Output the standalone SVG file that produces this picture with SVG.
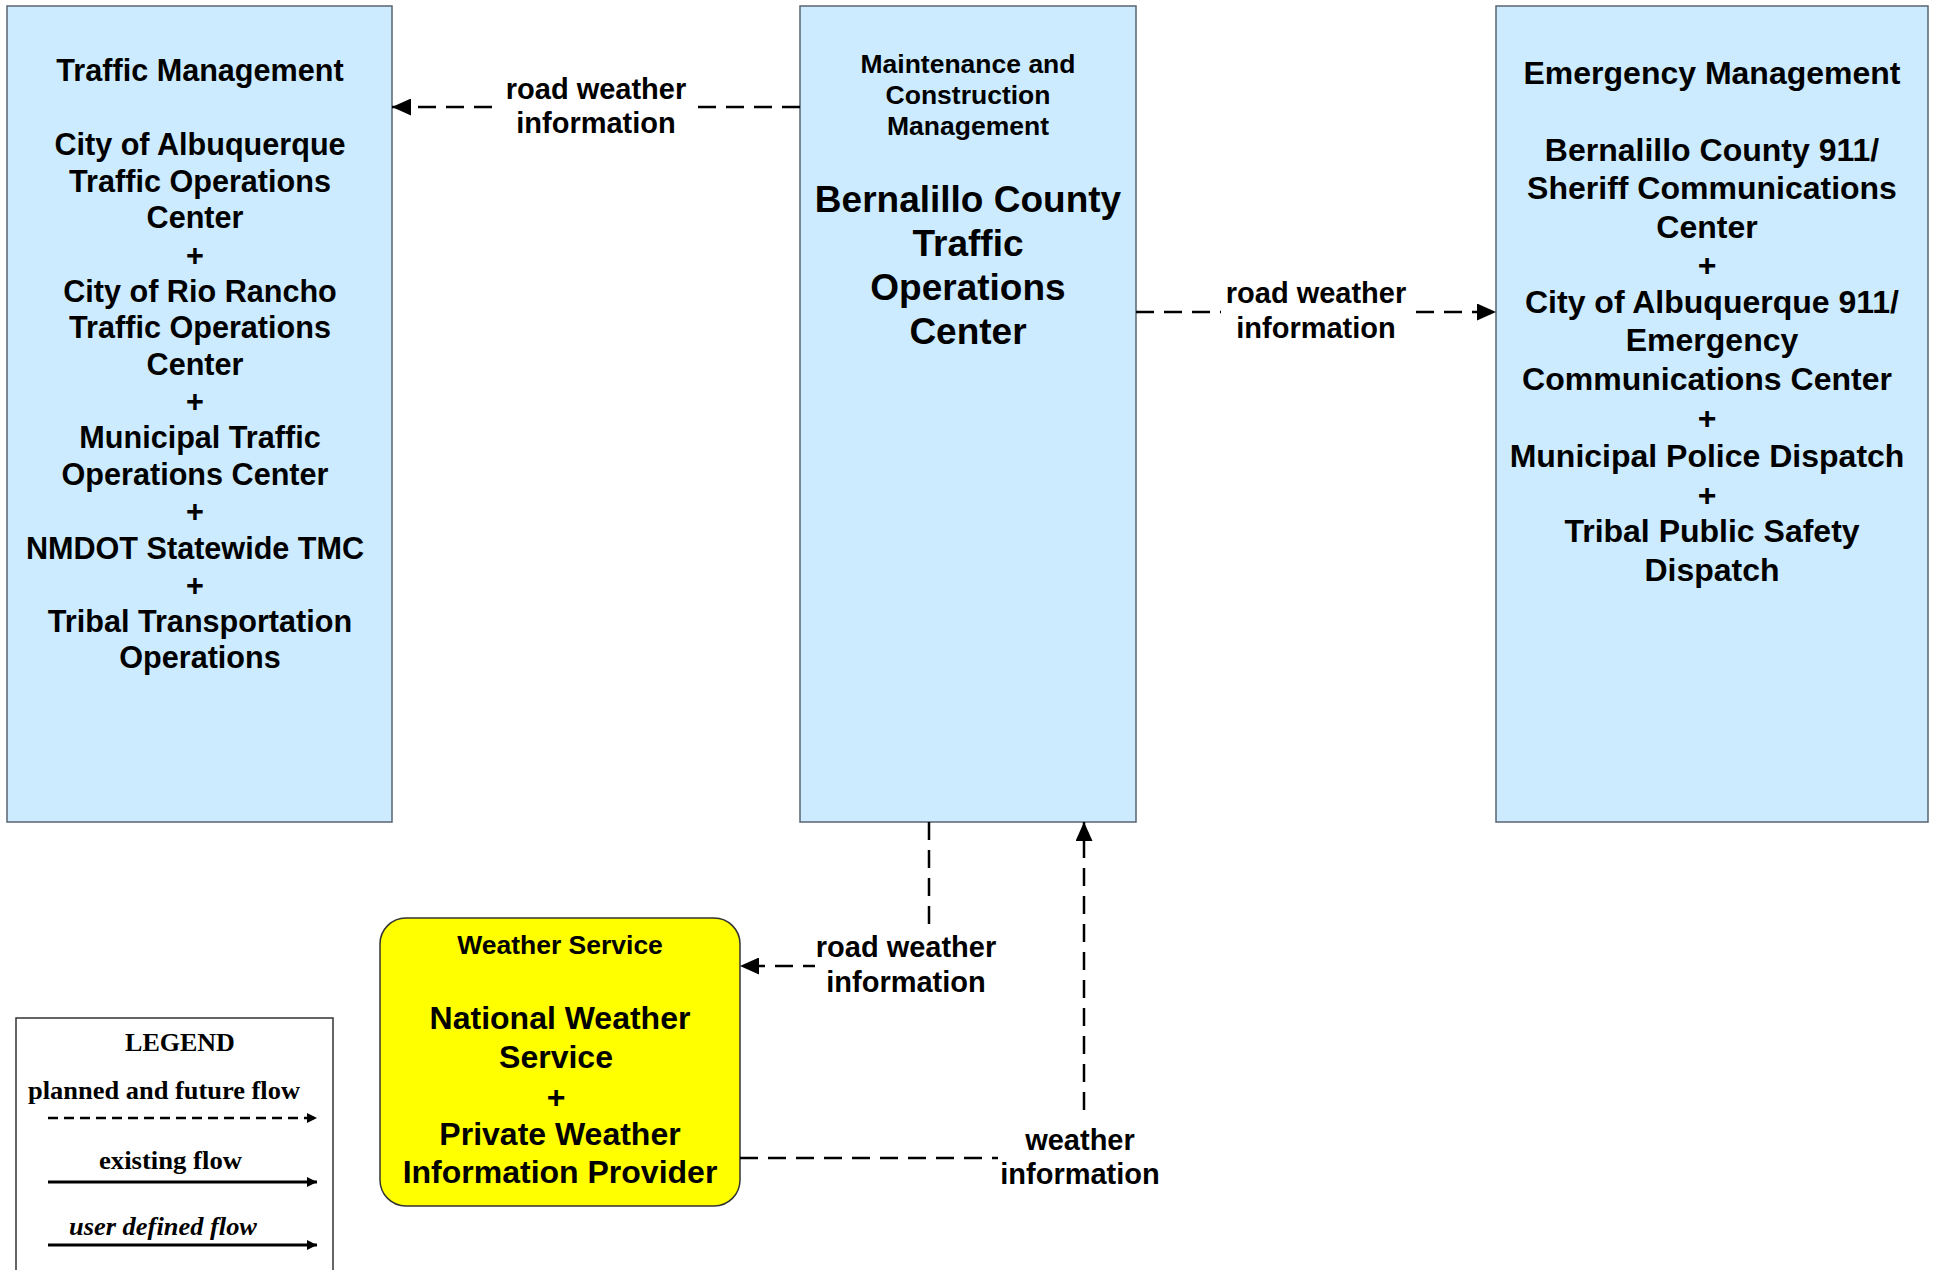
<svg xmlns="http://www.w3.org/2000/svg" width="1935" height="1270" viewBox="0 0 1935 1270">
<style>
  .box { fill: #CCEBFF; stroke: #5A6472; stroke-width: 1.5; }
  .ws { fill: #FFFF00; stroke: #333333; stroke-width: 1.5; }
  .t { font-family: "Liberation Sans", Arial, sans-serif; font-weight: bold; fill: #000; text-anchor: middle; }
  .h { font-size: 26.5px; }
  .m { font-size: 30.6px; }
  .r { font-size: 32px; }
  .big { font-size: 37px; }
  .lbl { font-family: "Liberation Sans", Arial, sans-serif; font-weight: bold; font-size: 29px; fill: #000; text-anchor: middle; }
  .flow { fill: none; stroke: #000; stroke-width: 2.5; stroke-dasharray: 18 10; }
  .lg { font-family: "Liberation Serif", "Times New Roman", serif; font-weight: bold; font-size: 26px; fill: #000; }
  .bg { fill: #FFFFFF; }
</style>
<defs>
  <marker id="arr" viewBox="0 0 19 17" refX="19" refY="8.5" markerWidth="19" markerHeight="17" markerUnits="userSpaceOnUse" orient="auto">
    <path d="M0,0 L19,8.5 L0,17 z" fill="#000"/>
  </marker>
  <marker id="sarr" viewBox="0 0 10 10" refX="10" refY="5" markerWidth="10" markerHeight="10" markerUnits="userSpaceOnUse" orient="auto">
    <path d="M0,0 L10,5 L0,10 z" fill="#000"/>
  </marker>
</defs>
<rect width="1935" height="1270" fill="#FFFFFF"/>

<g id="node-traffic-management">
  <rect class="box" x="7" y="6" width="385" height="816"/>
  <text class="t m" x="200" y="81">Traffic Management</text>
  <text class="t m" x="200" y="155">City of Albuquerque</text>
  <text class="t m" x="200" y="192">Traffic Operations</text>
  <text class="t m" x="195" y="228">Center</text>
  <text class="t m" x="195" y="266">+</text>
  <text class="t m" x="200" y="302">City of Rio Rancho</text>
  <text class="t m" x="200" y="338">Traffic Operations</text>
  <text class="t m" x="195" y="375">Center</text>
  <text class="t m" x="195" y="412">+</text>
  <text class="t m" x="200" y="448">Municipal Traffic</text>
  <text class="t m" x="195" y="485">Operations Center</text>
  <text class="t m" x="195" y="522">+</text>
  <text class="t m" x="195" y="559">NMDOT Statewide TMC</text>
  <text class="t m" x="195" y="596">+</text>
  <text class="t m" x="200" y="632">Tribal Transportation</text>
  <text class="t m" x="200" y="668">Operations</text>
</g>

<g id="node-bernalillo-tmc">
  <rect class="box" x="800" y="6" width="336" height="816"/>
  <text class="t h" x="968" y="73">Maintenance and</text>
  <text class="t h" x="968" y="104">Construction</text>
  <text class="t h" x="968" y="135">Management</text>
  <text class="t big" x="968" y="212">Bernalillo County</text>
  <text class="t big" x="968" y="256">Traffic</text>
  <text class="t big" x="968" y="300">Operations</text>
  <text class="t big" x="968" y="344">Center</text>
</g>

<g id="node-emergency-management">
  <rect class="box" x="1496" y="6" width="432" height="816"/>
  <text class="t r" x="1712" y="84">Emergency Management</text>
  <text class="t r" x="1712" y="161">Bernalillo County 911/</text>
  <text class="t r" x="1712" y="199">Sheriff Communications</text>
  <text class="t r" x="1707" y="238">Center</text>
  <text class="t r" x="1707" y="276">+</text>
  <text class="t r" x="1712" y="313">City of Albuquerque 911/</text>
  <text class="t r" x="1712" y="351">Emergency</text>
  <text class="t r" x="1707" y="390">Communications Center</text>
  <text class="t r" x="1707" y="429">+</text>
  <text class="t r" x="1707" y="467">Municipal Police Dispatch</text>
  <text class="t r" x="1707" y="506">+</text>
  <text class="t r" x="1712" y="542">Tribal Public Safety</text>
  <text class="t r" x="1712" y="581">Dispatch</text>
</g>

<g id="node-weather-service">
  <rect class="ws" x="380" y="918" width="360" height="288" rx="26" ry="26"/>
  <text class="t h" x="560" y="954">Weather Service</text>
  <text class="t r" x="560" y="1029">National Weather</text>
  <text class="t r" x="556" y="1068">Service</text>
  <text class="t r" x="556" y="1108">+</text>
  <text class="t r" x="560" y="1145">Private Weather</text>
  <text class="t r" x="560" y="1183">Information Provider</text>
</g>

<g id="connectors">
  <path class="flow" d="M800,107 H392" marker-end="url(#arr)"/>
  <rect class="bg" x="502" y="78" width="187" height="62"/>
  <text class="lbl" x="596" y="99">road weather</text>
  <text class="lbl" x="596" y="133">information</text>

  <path class="flow" d="M1136,312 H1496" marker-end="url(#arr)"/>
  <rect class="bg" x="1221" y="280" width="190" height="64"/>
  <text class="lbl" x="1316" y="303">road weather</text>
  <text class="lbl" x="1316" y="338">information</text>

  <path class="flow" d="M929,822 V966 H740" marker-end="url(#arr)"/>
  <rect class="bg" x="815" y="930" width="183" height="70"/>
  <text class="lbl" x="906" y="957">road weather</text>
  <text class="lbl" x="906" y="992">information</text>

  <path class="flow" d="M740,1158 H1084 V822" marker-end="url(#arr)"/>
  <rect class="bg" x="998" y="1120" width="164" height="74"/>
  <text class="lbl" x="1080" y="1150">weather</text>
  <text class="lbl" x="1080" y="1184">information</text>
</g>

<g id="legend">
  <rect x="16" y="1018" width="317" height="262" fill="#FFFFFF" stroke="#333333" stroke-width="1.5"/>
  <text class="lg" x="180" y="1051" text-anchor="middle">LEGEND</text>
  <text class="lg" x="28" y="1099" textLength="272" lengthAdjust="spacingAndGlyphs">planned and future flow</text>
  <path d="M48,1118 H317" stroke="#000" stroke-width="2.5" stroke-dasharray="10 6" fill="none" marker-end="url(#sarr)"/>
  <text class="lg" x="99" y="1169" textLength="143" lengthAdjust="spacingAndGlyphs">existing flow</text>
  <path d="M48,1182 H317" stroke="#000" stroke-width="3" fill="none" marker-end="url(#sarr)"/>
  <text class="lg" x="69" y="1235" font-style="italic" textLength="188" lengthAdjust="spacingAndGlyphs">user defined flow</text>
  <path d="M48,1245 H317" stroke="#000" stroke-width="3" fill="none" marker-end="url(#sarr)"/>
</g>
</svg>
